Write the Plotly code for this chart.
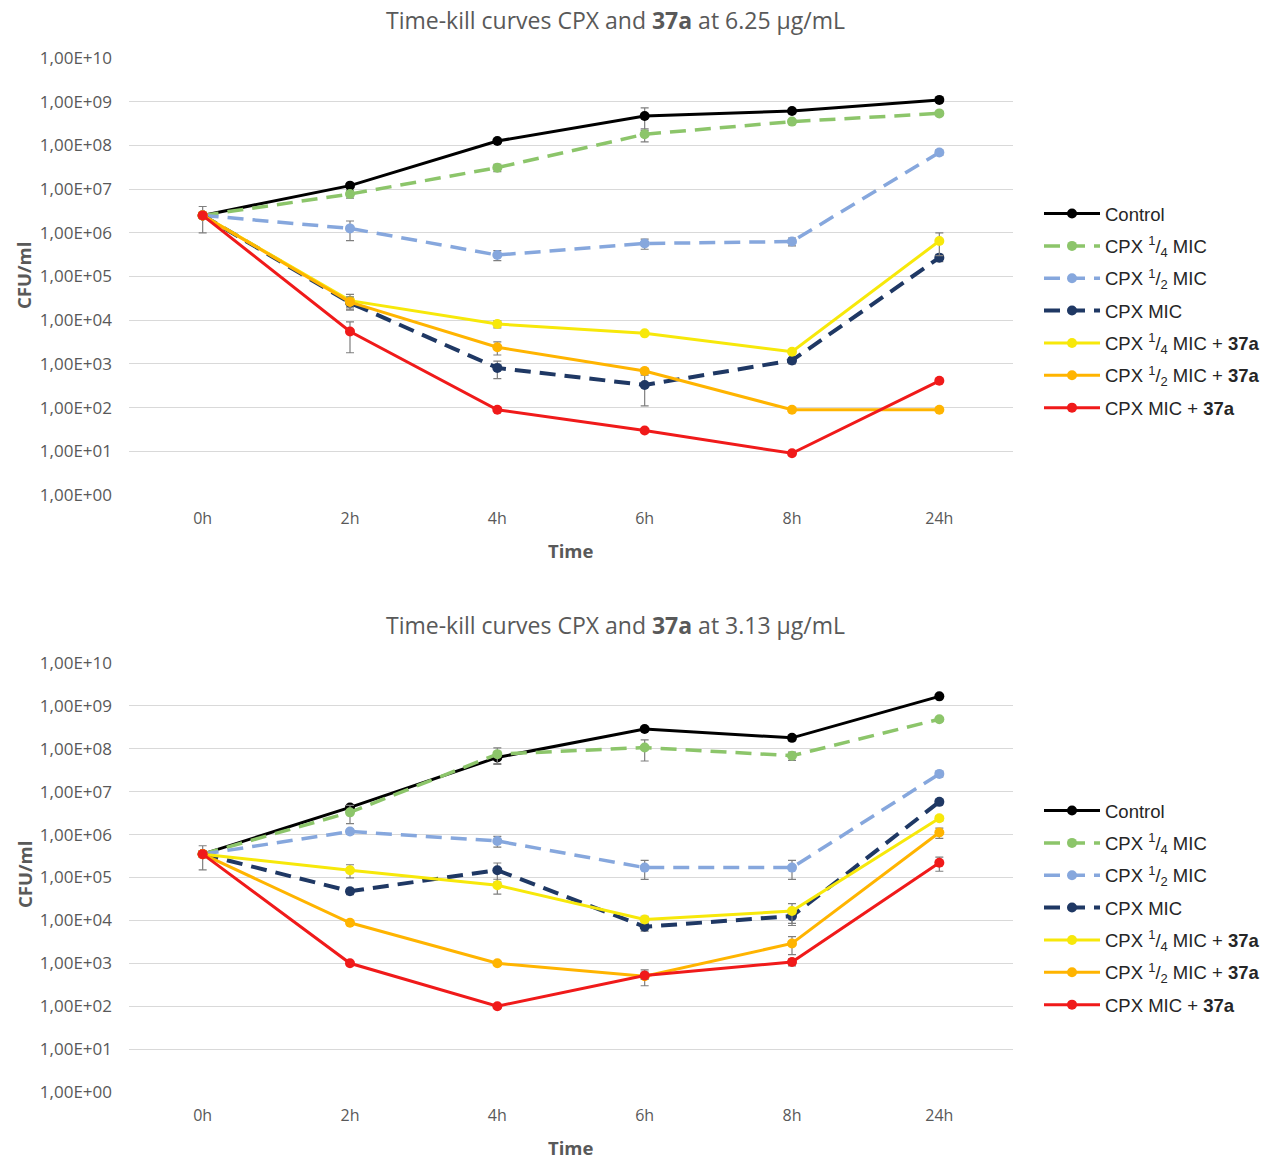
import plotly.graph_objects as go

times = ["0h", "2h", "4h", "6h", "8h", "24h"]

series_names = [
    "Control",
    "CPX <sup>1</sup>/<sub>4</sub> MIC",
    "CPX <sup>1</sup>/<sub>2</sub> MIC",
    "CPX MIC",
    "CPX <sup>1</sup>/<sub>4</sub> MIC + <b>37a</b>",
    "CPX <sup>1</sup>/<sub>2</sub> MIC + <b>37a</b>",
    "CPX MIC + <b>37a</b>",
]

# Top chart: 37a at 6.25 µg/mL
top_control = [2.5e6, 1.2e7, 1.26e8, 4.7e8, 6.1e8, 1.1e9]
top_q_mic = [2.5e6, 7.7e6, 3.1e7, 1.8e8, 3.5e8, 5.4e8]
top_h_mic = [2.5e6, 1.26e6, 3.1e5, 5.7e5, 6.3e5, 6.9e7]
top_mic = [2.5e6, 2.5e4, 8.1e2, 3.3e2, 1.2e3, 2.7e5]
top_q_37a = [2.5e6, 2.8e4, 8.2e3, 5.0e3, 1.9e3, 6.5e5]
top_h_37a = [2.5e6, 2.6e4, 2.4e3, 6.9e2, 89, 89]
top_mic_37a = [2.5e6, 5.5e3, 89, 30, 9, 4.1e2]

top_control_err = [1.5e6, None, None, 2.5e8, None, None]
top_q_mic_err = [None, 1.5e6, 6e6, 6e7, 4e7, 6e7]
top_h_mic_err = [None, 6e5, 8e4, 1.5e5, 1.3e5, 1e7]
top_mic_err = [None, 5e3, 3.5e2, 2.2e2, 2e2, 5e4]
top_q_37a_err = [None, 1.1e4, 1.5e3, None, None, 3.5e5]
top_h_37a_err = [None, 8e3, 8e2, 1e2, None, None]
top_mic_37a_err = [None, 3.7e3, None, None, None, None]

# Bottom chart: 37a at 3.13 µg/mL
bot_control = [3.5e5, 4.3e6, 6.3e7, 2.9e8, 1.8e8, 1.67e9]
bot_q_mic = [3.5e5, 3.3e6, 7.5e7, 1.07e8, 6.9e7, 4.9e8]
bot_h_mic = [3.5e5, 1.18e6, 7.1e5, 1.7e5, 1.7e5, 2.6e7]
bot_mic = [3.5e5, 4.8e4, 1.48e5, 7.1e3, 1.26e4, 5.8e6]
bot_q_37a = [3.5e5, 1.48e5, 6.6e4, 1.05e4, 1.65e4, 2.4e6]
bot_h_37a = [3.5e5, 8.8e3, 1.0e3, 5.0e2, 2.9e3, 1.12e6]
bot_mic_37a = [3.5e5, 1.0e3, 1.0e2, 5.2e2, 1.07e3, 2.2e5]

bot_control_err = [2e5, None, 2e7, None, None, None]
bot_q_mic_err = [None, 1.5e6, 3e7, 5.5e7, 1.5e7, 5e7]
bot_h_mic_err = [None, 1.5e5, 2e5, 8e4, 8e4, 4e6]
bot_mic_err = [None, 8e3, 7e4, 1.5e3, 5e3, 8e5]
bot_q_37a_err = [None, 5e4, 2.5e4, 2e3, 8e3, 3e5]
bot_h_37a_err = [None, 1e3, 1e2, 2e2, 1.3e3, 3e5]
bot_mic_37a_err = [None, 1e2, None, 1e2, 2e2, 8e4]

ytick_vals = [10 ** k for k in range(0, 11)]
ytick_text = ["1,00E+%02d" % k for k in range(0, 11)]

colors = ["#000000", "#8cc56a", "#86a7dd", "#1f3864", "#f7e80a", "#ffb400", "#f01a1a"]
dashes = ["solid", "16px,9px", "16px,9px", "16px,9px", "solid", "solid", "solid"]
widths = [3, 3.5, 3.5, 4, 3, 3, 3]

top_vals = [top_control, top_q_mic, top_h_mic, top_mic, top_q_37a, top_h_37a, top_mic_37a]
top_errs = [top_control_err, top_q_mic_err, top_h_mic_err, top_mic_err, top_q_37a_err, top_h_37a_err, top_mic_37a_err]
bot_vals = [bot_control, bot_q_mic, bot_h_mic, bot_mic, bot_q_37a, bot_h_37a, bot_mic_37a]
bot_errs = [bot_control_err, bot_q_mic_err, bot_h_mic_err, bot_mic_err, bot_q_37a_err, bot_h_37a_err, bot_mic_37a_err]

W, H = 1279, 1159
L, R = 129, 266

def py(px):
    return (H - px) / H

def pxx(px):
    return (px - L) / (W - L - R)

fig = go.Figure()

for panel, (vals, errs, xa, ya, lg) in enumerate([
    (top_vals, top_errs, "x", "y", "legend"),
    (bot_vals, bot_errs, "x2", "y2", "legend2"),
]):
    for i, name in enumerate(series_names):
        fig.add_trace(go.Scatter(
            x=times, y=vals[i], name=name, mode="lines+markers",
            xaxis=xa, yaxis=ya, legend=lg, legendgroup="g%d_%d" % (panel, i),
            line=dict(color=colors[i], width=widths[i], dash=dashes[i]),
            marker=dict(color=colors[i], size=10),
            error_y=dict(type="data", array=errs[i], visible=True,
                         color="#7f7f7f", thickness=1.2, width=4),
        ))

axis_common = dict(
    type="log", range=[0, 10], tickvals=ytick_vals, ticktext=ytick_text,
    showgrid=True, gridcolor="#d9d9d9", gridwidth=1, zeroline=False,
    showline=False, ticks="", ticklabelstandoff=16, automargin=False,
    tickfont=dict(family="Open Sans", size=17, color="#595959"),
)
xaxis_common = dict(
    type="category", range=[-0.5, 5.5], showgrid=False, zeroline=False,
    showline=False, ticks="", ticklabelstandoff=12, automargin=False,
    tickfont=dict(family="Open Sans", size=16, color="#595959"),
)

legend_font = dict(family="Liberation Sans", size=18.5, color="#262626")

fig.update_layout(
    width=W, height=H,
    margin=dict(l=L, r=R, t=0, b=0, autoexpand=False),
    paper_bgcolor="white", plot_bgcolor="white",
    showlegend=True,
    xaxis=dict(domain=[0, 1], anchor="y", **xaxis_common),
    yaxis=dict(domain=[py(495), py(58)], anchor="x", **axis_common),
    xaxis2=dict(domain=[0, 1], anchor="y2", **xaxis_common),
    yaxis2=dict(domain=[py(1092), py(663)], anchor="x2", **axis_common),
    legend=dict(x=pxx(1039), y=py(195), xanchor="left", yanchor="top",
                traceorder="grouped", tracegroupgap=5.3, itemwidth=56,
                font=legend_font, bgcolor="rgba(0,0,0,0)"),
    legend2=dict(x=pxx(1039), y=py(792), xanchor="left", yanchor="top",
                 traceorder="grouped", tracegroupgap=5.3, itemwidth=56,
                 font=legend_font, bgcolor="rgba(0,0,0,0)"),
)

title_font = dict(family="Open Sans", size=23, color="#595959")
label_font = dict(family="Open Sans", size=18.5, color="#595959")
annots = [
    dict(text="Time-kill curves CPX and <b>37a</b> at 6.25 µg/mL", x=pxx(615), y=py(20)),
    dict(text="Time-kill curves CPX and <b>37a</b> at 3.13 µg/mL", x=pxx(615), y=py(625)),
]
for a in annots:
    fig.add_annotation(xref="paper", yref="paper", xanchor="center", yanchor="middle",
                       showarrow=False, font=title_font, **a)
for yy in [550, 1147]:
    fig.add_annotation(text="<b>Time</b>", xref="paper", yref="paper", x=pxx(571), y=py(yy),
                       xanchor="center", yanchor="middle", showarrow=False, font=label_font)
for yy in [276, 875]:
    fig.add_annotation(text="<b>CFU/ml</b>", xref="paper", yref="paper", x=pxx(24), y=py(yy),
                       xanchor="center", yanchor="middle", showarrow=False, textangle=-90,
                       font=label_font)

fig.write_html("out.html", config={"displayModeBar": False},
               post_script="document.body.style.margin='0px';document.body.style.overflow='hidden';")
